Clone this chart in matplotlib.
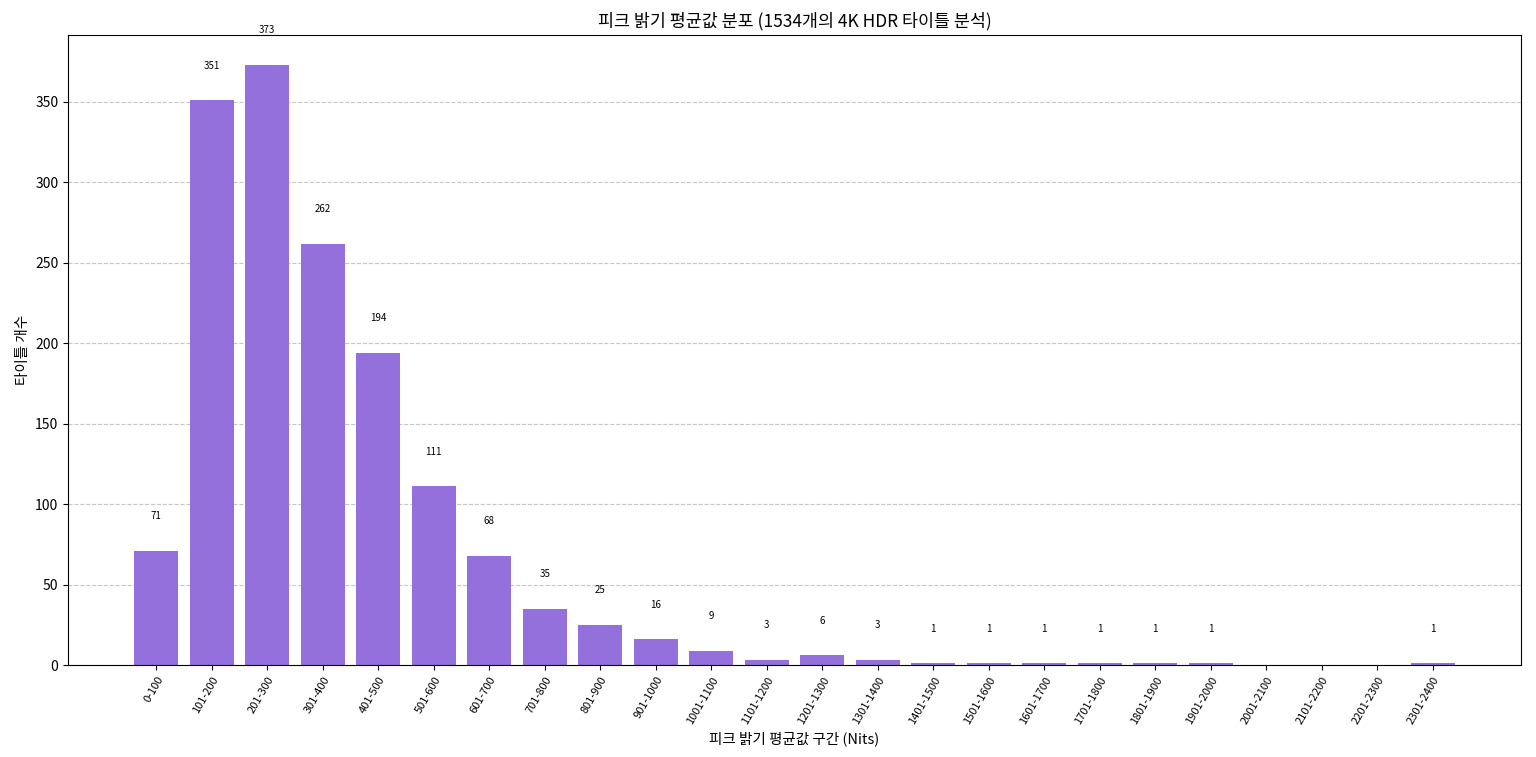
import matplotlib
matplotlib.use("Agg")
import matplotlib.pyplot as plt

plt.rcParams['font.family'] = ['Noto Sans CJK KR', 'DejaVu Sans']

categories = ['0-100', '101-200', '201-300', '301-400', '401-500', '501-600', '601-700',
              '701-800', '801-900', '901-1000', '1001-1100', '1101-1200', '1201-1300',
              '1301-1400', '1401-1500', '1501-1600', '1601-1700', '1701-1800', '1801-1900',
              '1901-2000', '2001-2100', '2101-2200', '2201-2300', '2301-2400']
counts = [71, 351, 373, 262, 194, 111, 68, 35, 25, 16, 9, 3, 6, 3, 1, 1, 1, 1, 1, 1, 0, 0, 0, 1]

fig, ax = plt.subplots(figsize=(15.36, 7.57), dpi=100)
bars = ax.bar(categories, counts, color='mediumpurple', zorder=2)
for rect, v in zip(bars, counts):
    if v > 0:
        ax.text(rect.get_x() + rect.get_width() / 2, v + 18.5, str(v),
                ha='center', va='bottom', fontsize=7)

ax.set_title('피크 밝기 평균값 분포 (1534개의 4K HDR 타이틀 분석)', fontsize=12.5)
ax.set_xlabel('피크 밝기 평균값 구간 (Nits)', fontsize=10.5)
ax.set_ylabel('타이틀 개수', fontsize=10.5)
plt.setp(ax.get_xticklabels(), rotation=60, ha='right', rotation_mode='anchor', fontsize=8)
ax.grid(axis='y', linestyle='--', alpha=0.7, zorder=0)
ax.set_axisbelow(True)

fig.subplots_adjust(left=0.0443, right=0.9902, top=0.9538, bottom=0.1215)
fig.savefig('out.png', dpi=100)
